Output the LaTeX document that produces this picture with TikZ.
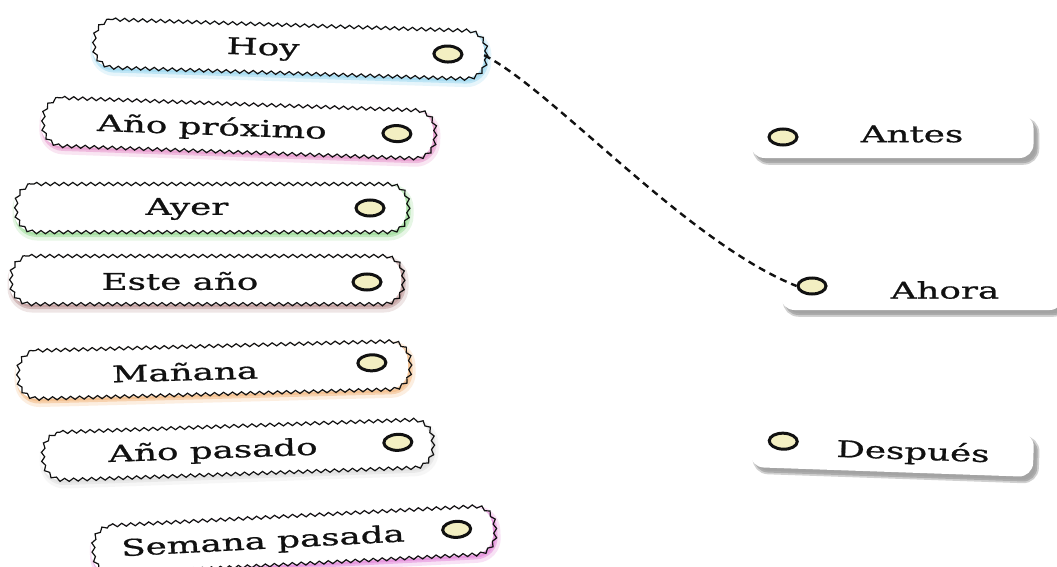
\documentclass[tikz,border=0pt]{standalone}
\usepackage{fontspec}
\setmainfont{DejaVu Serif}
\newfontfamily\lblfont{DejaVu Serif}[FakeBold=0.7]
\usetikzlibrary{decorations.pathmorphing,shadows,shapes.geometric}
\definecolor{ink}{HTML}{111111}
\definecolor{dotfill}{HTML}{F3EFC2}
\definecolor{glowblue}{HTML}{8FD3EE}
\definecolor{glowpink}{HTML}{E58AC6}
\definecolor{glowgreen}{HTML}{8ED88A}
\definecolor{glowmauve}{HTML}{B58A8A}
\definecolor{gloworange}{HTML}{F2B274}
\definecolor{glowgray}{HTML}{DADADA}
\definecolor{glowmagenta}{HTML}{E07AD6}
\newcommand\wt[1]{\scalebox{1.55}[1]{#1}}
% rounded box outline in local coordinates: half width #1, half height #2, corner radius 20
\newcommand\boxpath[2]{(-#1+20,-#2) -- (#1-20,-#2) .. controls (#1-9,-#2) and (#1,-#2+9) .. (#1,-#2+20)
  -- (#1,#2-20) .. controls (#1,#2-9) and (#1-9,#2) .. (#1-20,#2) -- (-#1+20,#2)
  .. controls (-#1+9,#2) and (-#1,#2-9) .. (-#1,#2-20) -- (-#1,-#2+20)
  .. controls (-#1,-#2+9) and (-#1+9,-#2) .. cycle}
\tikzset{
  wavy/.style={draw=ink, line width=1.2pt, decorate,
    decoration={snake, amplitude=1.6pt, segment length=9pt}},
  glowwide/.style={draw=#1, line width=9pt, opacity=0.22, line join=round},
  glow/.style={fill=#1, draw=#1, line width=4pt, opacity=0.45, line join=round},
  boxanchor/.style={inner sep=0pt, minimum height=48pt},
  rbox/.style={fill=white, rounded corners=14pt, minimum width=283pt,
    minimum height=44pt, inner sep=0pt,
    drop shadow={shadow xshift=4pt, shadow yshift=-5pt, fill=black!60,
      draw=black!30, line width=3.5pt, opacity=0.6}},
  lbl/.style={font=\lblfont\fontsize{23}{26}\selectfont, text=ink, inner sep=0pt},
  dot/.style={ellipse, draw=ink, line width=3pt, fill=dotfill,
    minimum width=28pt, minimum height=16pt, inner sep=0pt},
  link/.style={draw=ink, line width=2.4pt, dash pattern=on 7pt off 5pt}
}
% left box: name, half width, glow colour
\newcommand\leftbox[3]{%
  \path[glowwide=#3, shift={(3,4)}] \boxpath{#2}{24};
  \path[glow=#3, shift={(2.5,3)}] \boxpath{#2}{24};
  \path[fill=white] \boxpath{#2}{24};
  \path[wavy] \boxpath{#2}{24};
  \node[boxanchor, minimum width=2*#2] (#1) at (0,0) {};}
\begin{document}
\begin{tikzpicture}[x=1pt, y=-1pt]
\useasboundingbox (0,0) rectangle (1057,567);
\clip (0,0) rectangle (1057,567);
\fill[white] (0,0) rectangle (1057,567);

% ---- left column ----
\begin{scope}[shift={(288,49)}, rotate=-1.8, transform shape]
  \leftbox{hoy}{196}{glowblue}
  \node[lbl] (hoyt) at (-25,1) {\wt{Hoy}};
  \node[dot] (hoyd) at (160,0) {};
\end{scope}
\begin{scope}[shift={(237,128)}, rotate=-2, transform shape]
  \leftbox{prox}{196}{glowpink}
  \node[lbl] (proxt) at (-25,1) {\wt{Año próximo}};
  \node[dot] (proxd) at (160,0) {};
\end{scope}
\begin{scope}[shift={(210,208)}, transform shape]
  \leftbox{ayer}{196}{glowgreen}
  \node[lbl] (ayert) at (-23,1) {\wt{Ayer}};
  \node[dot] (ayerd) at (160,0) {};
\end{scope}
\begin{scope}[shift={(205,280)}, transform shape]
  \leftbox{este}{196}{glowmauve}
  \node[lbl] (estet) at (-25,1) {\wt{Este año}};
  \node[dot] (ested) at (162,2) {};
\end{scope}
\begin{scope}[shift={(212,370)}, rotate=1.5, transform shape]
  \leftbox{manana}{196}{gloworange}
  \node[lbl] (mananat) at (-27,1) {\wt{Mañana}};
  \node[dot] (mananad) at (160,-3) {};
\end{scope}
\begin{scope}[shift={(236,450)}, rotate=2, transform shape]
  \leftbox{pasado}{195}{glowgray}
  \node[lbl] (pasadot) at (-23,1) {\wt{Año pasado}};
  \node[dot] (pasadod) at (162,-2) {};
\end{scope}
\begin{scope}[shift={(292,540)}, rotate=3, transform shape]
  \leftbox{semana}{201}{glowmagenta}
  \node[lbl] (semanat) at (-29,1) {\wt{Semana pasada}};
  \node[dot] (semanad) at (165,-2) {};
\end{scope}

% ---- right column ----
\begin{scope}[shift={(892,136)}, transform shape]
  \node[rbox] (antes) at (0,0) {};
  \node[dot] (antesd) at (-109,1) {};
  \node[lbl] (antest) at (20,-2) {\wt{Antes}};
\end{scope}
\begin{scope}[shift={(922,288)}, transform shape]
  \node[rbox] (ahora) at (0,0) {};
  \node[dot] (ahorad) at (-110,-2) {};
  \node[lbl] (ahorat) at (23,2) {\wt{Ahora}};
\end{scope}
\begin{scope}[shift={(892,450)}, rotate=-2, transform shape]
  \node[rbox] (despues) at (0,0) {};
  \node[dot] (despuesd) at (-109,-5) {};
  \node[lbl] (despuest) at (21,2) {\wt{Después}};
\end{scope}

% ---- connector ----
\draw[link] (hoy.east) .. controls +(70,36) and +(-110,-44) .. (ahorad.west);
\end{tikzpicture}
\end{document}
